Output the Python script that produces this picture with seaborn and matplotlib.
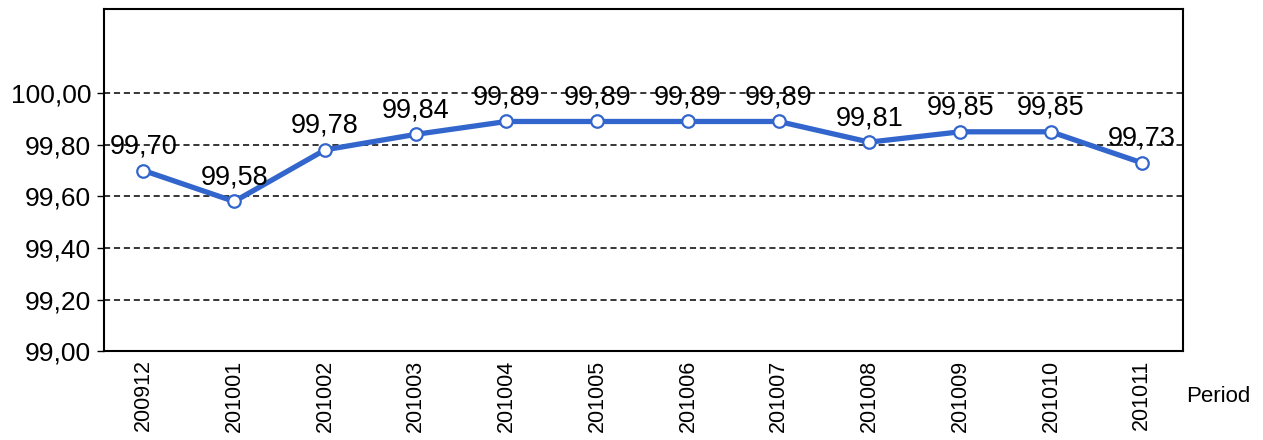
"""Monthly index by period: line chart with value labels."""

import matplotlib.pyplot as plt
import pandas as pd
import seaborn as sns

periods = ["200912", "201001", "201002", "201003", "201004", "201005",
           "201006", "201007", "201008", "201009", "201010", "201011"]
values = [99.70, 99.58, 99.78, 99.84, 99.89, 99.89,
          99.89, 99.89, 99.81, 99.85, 99.85, 99.73]
y_ticks = [99.0, 99.2, 99.4, 99.6, 99.8, 100.0]


def fmt(v: float) -> str:
    return f"{v:.2f}".replace(".", ",")


def main() -> None:
    sns.set_style("white")
    plt.rcParams["font.family"] = ["Liberation Sans", "DejaVu Sans"]
    plt.rcParams["text.color"] = "black"
    plt.rcParams["xtick.color"] = "black"
    plt.rcParams["ytick.color"] = "black"

    df = pd.DataFrame({"Period": periods, "Value": values})
    df["pos"] = range(len(df))

    fig, ax = plt.subplots(figsize=(12.63, 4.40), dpi=100)
    fig.subplots_adjust(left=0.082, right=0.937, top=0.979, bottom=0.202)

    for y in y_ticks[1:]:
        ax.axhline(y, color="black", lw=1.1, ls=(0, (4, 2.5)), zorder=1)

    sns.lineplot(data=df, x="pos", y="Value", ax=ax, color="#3366CC",
                 lw=3.8, marker="o", markersize=9, markerfacecolor="white",
                 markeredgecolor="#3366CC", markeredgewidth=1.6, zorder=3)

    for x, v in zip(df["pos"], df["Value"]):
        ax.annotate(fmt(v), (x, v), xytext=(0, 8), textcoords="offset points",
                    ha="center", va="bottom", fontsize=19.5, zorder=4)

    ax.set_xlim(-0.44, 11.46)
    ax.set_ylim(99.0, 100.325)
    ax.set_yticks(y_ticks)
    ax.set_yticklabels([fmt(t) for t in y_ticks], fontsize=19)
    ax.set_xticks(df["pos"])
    ax.set_xticklabels(periods, rotation=90, fontsize=15.5)
    ax.tick_params(axis="y", length=5, width=1, left=True, pad=4)
    ax.tick_params(axis="x", length=0, pad=6)
    ax.set_xlabel("")
    ax.set_ylabel("")
    for s in ax.spines.values():
        s.set_color("black")
        s.set_linewidth(1.5)

    fig.text(0.939, 0.1, "Period", fontsize=16, ha="left", va="center")

    fig.savefig("out.png", dpi=100)
    plt.close(fig)


if __name__ == "__main__":
    main()
